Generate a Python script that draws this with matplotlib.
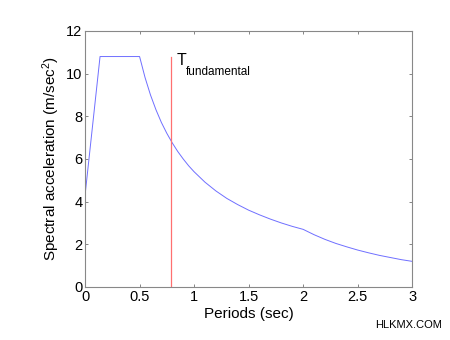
import matplotlib
matplotlib.use("Agg")
import matplotlib.pyplot as plt

# spectrum
periods = [0, 0.1375, 0.5, 0.55, 0.6, 0.65, 0.7, 0.75, 0.8, 0.85, 0.9, 0.95,
           1.0, 1.1, 1.2, 1.3, 1.4, 1.5, 1.6, 1.7, 1.8, 1.9, 2.0, 2.1, 2.2,
           2.3, 2.4, 2.5, 2.6, 2.7, 2.8, 2.9, 3.0]
spectral_acc = [4.3, 10.8, 10.8, 9.82, 9.0, 8.31, 7.71, 7.2, 6.75, 6.35, 6.0,
                5.68, 5.4, 4.91, 4.5, 4.15, 3.86, 3.6, 3.38, 3.18, 3.0, 2.84,
                2.7, 2.45, 2.23, 2.04, 1.88, 1.73, 1.60, 1.48, 1.38, 1.28, 1.2]
t_fundamental = 0.785
t_line_top = 10.8
xticks = [0, 0.5, 1, 1.5, 2, 2.5, 3]
yticks = [0, 2, 4, 6, 8, 10, 12]

plt.rcParams["font.family"] = ["Liberation Sans", "DejaVu Sans"]
plt.rcParams["mathtext.fontset"] = "custom"
plt.rcParams["mathtext.rm"] = "Liberation Sans"
plt.rcParams["mathtext.it"] = "Liberation Sans"

fig = plt.figure(figsize=(4.5, 3.4), dpi=100)
ax = fig.add_axes([0.189, 0.156, 0.727, 0.753])

ax.plot(periods, spectral_acc, color="#6f6fff", linewidth=0.7)
ax.plot([t_fundamental, t_fundamental], [0, t_line_top], color="#ff7070",
        linewidth=0.9)

ax.set_xlim(0, 3)
ax.set_ylim(0, 12)
ax.set_xticks(xticks)
ax.set_xticklabels(["0", "0.5", "1", "1.5", "2", "2.5", "3"])
ax.set_yticks(yticks)
ax.tick_params(direction="in", length=2, width=0.5, color="#555555",
               top=True, right=True, labelsize=10.5, pad=2)
for s in ax.spines.values():
    s.set_color("#888888")
    s.set_linewidth(0.8)

ax.set_xlabel("Periods (sec)", fontsize=11, labelpad=2)
ax.set_ylabel("Spectral acceleration (m/sec$^2$)", fontsize=11, labelpad=3)

ax.text(0.84, 10.4, "T", fontsize=11.5, ha="left", va="baseline")
ax.text(0.92, 9.93, "fundamental", fontsize=8.5, ha="left", va="baseline")

fig.text(0.983, 0.035, "HLKMX.COM", fontsize=8, ha="right", va="baseline")

fig.savefig("out.png", dpi=100)
